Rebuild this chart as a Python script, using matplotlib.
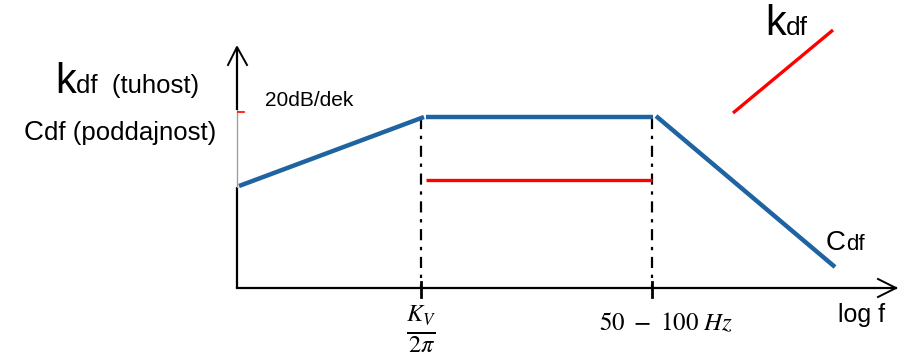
import matplotlib
matplotlib.use("Agg")
import matplotlib.pyplot as plt

plt.rcParams['font.family'] = ['Liberation Sans', 'DejaVu Sans']
plt.rcParams['mathtext.fontset'] = 'stix'

# schematic in picture units (x to the right, y downwards)
ORIGIN = (237, 288)
AXIS_END_X = 896
AXIS_END_Y = 47

# break points: Kv/2pi and 50-100 Hz
break_x = [421, 652]
tick_labels = [r'$\frac{K_V}{2\pi}$', r'$50\ -\ 100\ Hz$']

# compliance Cdf (blue)
cdf_x = [239, 424, 653, 835]
cdf_y = [186, 117, 117, 267]

# stiffness kdf (red)
kdf_mid_x = [426, 652]
kdf_mid_y = [180, 180]
kdf_high_x = [733, 833]
kdf_high_y = [113, 30]

BLUE = '#1f63a0'
RED = '#ff0000'

fig = plt.figure(figsize=(9.08, 3.58), dpi=100)
ax = fig.add_axes([0, 0, 1, 1])
ax.set_xlim(0, 908)
ax.set_ylim(358, 0)
ax.axis('off')

ox, oy = ORIGIN
# y axis (thin grey part where labels are)
ax.plot([ox, ox], [oy, 187], color='black', lw=1.6, solid_capstyle='butt')
ax.plot([ox, ox], [187, 110], color='#a0a0a0', lw=1.0)
ax.plot([ox, ox], [110, AXIS_END_Y], color='black', lw=1.6, solid_capstyle='butt')
ax.plot([ox - 9, ox, ox + 10], [AXIS_END_Y + 18, AXIS_END_Y, AXIS_END_Y + 18],
        color='black', lw=1.4)
# x axis
ax.plot([ox, AXIS_END_X], [oy, oy], color='black', lw=1.6)
ax.plot([AXIS_END_X - 18, AXIS_END_X, AXIS_END_X - 18], [oy - 9, oy, oy + 9],
        color='black', lw=1.4)

# ticks, dash-dot guides and labels
for bx in break_x:
    ax.plot([bx, bx], [282, 297], color='black', lw=2.0)
    ax.plot([bx, bx], [118, oy], color='black', lw=1.6, ls=(0, (5, 3, 1.5, 3)))
ax.text(break_x[0], 329, tick_labels[0], fontsize=25, ha='center', va='center')
ax.text(break_x[1] + 14, 323, tick_labels[1], fontsize=18, ha='center', va='center')
ax.text(838, 322, 'log f', fontsize=18, ha='left', va='baseline')

# curves
ax.plot(cdf_x[:2], cdf_y[:2], color=BLUE, lw=3.2, solid_capstyle='butt')
ax.plot([cdf_x[1] + 2, cdf_x[2]], cdf_y[1:3], color=BLUE, lw=3.2, solid_capstyle='butt')
ax.plot([cdf_x[2] + 3, cdf_x[3]], [cdf_y[2] - 1, cdf_y[3]], color=BLUE, lw=3.2,
        solid_capstyle='butt')
ax.plot(kdf_mid_x, kdf_mid_y, color=RED, lw=2.4, solid_capstyle='butt')
ax.plot(kdf_high_x, kdf_high_y, color=RED, lw=2.4, solid_capstyle='butt')
ax.plot([ox + 1, ox + 7], [112, 112], color=RED, lw=1.2)

fig.canvas.draw()
renderer = fig.canvas.get_renderer()


def label(x, y, big, small, big_size, small_size):
    t = ax.text(x, y, big, fontsize=big_size, ha='left', va='baseline')
    bb = t.get_window_extent(renderer)
    x1 = ax.transData.inverted().transform((bb.x1, bb.y0))[0]
    ax.text(x1, y, small, fontsize=small_size, ha='left', va='baseline')


label(55, 93, 'k', 'df  (tuhost)', 30, 18.5)
label(24, 140, 'C', 'df (poddajnost)', 20, 18.5)
ax.text(265, 106, '20dB/dek', fontsize=15, ha='left', va='baseline')
label(765, 35, 'k', 'df', 30, 19)
label(826, 250, 'C', 'df', 20, 16)

fig.savefig('out.png', dpi=100)
